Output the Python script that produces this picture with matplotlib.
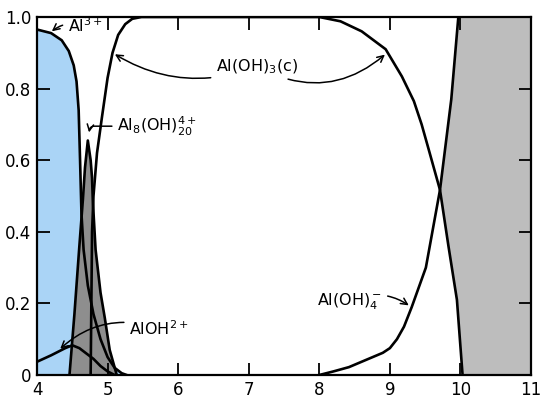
import numpy as np
import matplotlib
matplotlib.use("Agg")
import matplotlib.pyplot as plt

plt.rcParams["mathtext.default"] = "regular"
plt.rcParams["font.family"] = "DejaVu Sans"

# pH values and species fractions
al3_x = [4.0, 4.2, 4.35, 4.45, 4.52, 4.56, 4.59, 4.61, 4.63, 4.66, 4.72, 4.8, 4.9, 5.0, 5.1, 5.2, 5.27]
al3_y = [0.965, 0.955, 0.935, 0.905, 0.865, 0.82, 0.74, 0.6, 0.45, 0.35, 0.25, 0.17, 0.1, 0.05, 0.02, 0.005, 0.0]

poly_x = [4.46, 4.53, 4.6, 4.65, 4.68, 4.72, 4.76, 4.78, 4.79, 4.83, 4.9, 4.96, 5.03, 5.13]
poly_y = [0.0, 0.17, 0.36, 0.49, 0.58, 0.655, 0.6, 0.55, 0.49, 0.35, 0.23, 0.16, 0.07, 0.0]

aloh_x = [4.0, 4.2, 4.4, 4.5, 4.6, 4.7, 4.8, 4.9, 5.0, 5.1]
aloh_y = [0.037, 0.055, 0.075, 0.083, 0.075, 0.06, 0.045, 0.025, 0.01, 0.0]

aloh3_x = [4.76, 4.77, 4.78, 4.8, 4.85, 4.92, 5.0, 5.07, 5.15, 5.25, 5.35, 5.48, 6.0, 7.0,
           8.0, 8.3, 8.6, 8.94, 9.17, 9.34, 9.45, 9.55, 9.71, 9.83, 9.95, 10.03]
aloh3_y = [0.0, 0.2, 0.4, 0.5, 0.62, 0.72, 0.83, 0.9, 0.95, 0.98, 0.995, 1.0, 1.0, 1.0,
           1.0, 0.988, 0.96, 0.91, 0.834, 0.765, 0.7, 0.63, 0.517, 0.36, 0.21, 0.0]

aloh4_x = [8.0, 8.2, 8.42, 8.66, 8.9, 9.0, 9.1, 9.2, 9.31, 9.51, 9.71, 9.87, 9.97]
aloh4_y = [0.0, 0.01, 0.022, 0.042, 0.062, 0.075, 0.1, 0.135, 0.19, 0.30, 0.517, 0.77, 1.0]

x_ticks = [4, 5, 6, 7, 8, 9, 10, 11]
y_ticks = [0, 0.2, 0.4, 0.6, 0.8, 1.0]
y_tick_labels = ["0", "0.2", "0.4", "0.6", "0.8", "1.0"]

BLUE = "#aad4f6"
POLY_GRAY = "#8e8e8e"
RIGHT_GRAY = "#bdbdbd"

fig = plt.figure(figsize=(5.5, 4), dpi=100)
ax = fig.add_axes([0.0673, 0.0625, 0.8982, 0.895])

# blue area under Al3+
ax.fill_between(al3_x, al3_y, 0, color=BLUE, lw=0)
# polymer peak
ax.fill_between(poly_x, poly_y, 0, color=POLY_GRAY, lw=0)

# grey area on the right, between Al(OH)3(c) and Al(OH)4-
grid = np.linspace(9.6, 11, 600)
upper = np.interp(grid, aloh4_x, aloh4_y, right=1.0)
lower = np.interp(grid, aloh3_x, aloh3_y, right=0.0)
ax.fill_between(grid, lower, upper, where=upper >= lower, interpolate=True,
                color=RIGHT_GRAY, lw=0)

lw = 1.9
ax.plot(al3_x, al3_y, color="black", lw=lw)
ax.plot(poly_x, poly_y, color="black", lw=lw)
ax.plot(aloh_x, aloh_y, color="black", lw=lw)
ax.plot(aloh3_x, aloh3_y, color="black", lw=lw)
ax.plot(aloh4_x, aloh4_y, color="black", lw=lw)

ax.set_xlim(4, 11)
ax.set_ylim(0, 1)
ax.set_xticks(x_ticks)
ax.set_yticks(y_ticks)
ax.set_yticklabels(y_tick_labels)
ax.tick_params(direction="in", length=9, width=1.3, top=True, right=True,
               labelsize=12, pad=4)
for s in ax.spines.values():
    s.set_linewidth(1.6)

head = dict(arrowstyle="->", color="black", lw=1.1)
fs = 11.5

ax.annotate("Al$^{3+}$", xy=(4.18, 0.955), xytext=(4.44, 0.975), fontsize=fs,
            va="center", arrowprops=dict(head, connectionstyle="arc3,rad=0.3"))
ax.annotate("Al$_8$(OH)$_{20}^{4+}$", xy=(4.73, 0.67), xytext=(5.14, 0.695),
            fontsize=fs, va="center",
            arrowprops=dict(head, connectionstyle="angle,angleA=0,angleB=80,rad=4"))
ax.annotate("Al(OH)$_3$(c)", xy=(5.07, 0.9), xytext=(6.54, 0.862), fontsize=fs,
            va="center", arrowprops=dict(head, connectionstyle="arc3,rad=-0.25"))
ax.annotate("Al(OH)$_3$(c)", xy=(8.96, 0.9), xytext=(6.54, 0.862), fontsize=fs,
            va="center", alpha=0,
            arrowprops=dict(head, alpha=1, connectionstyle="arc3,rad=0.35"))
ax.annotate("AlOH$^{2+}$", xy=(4.3, 0.068), xytext=(5.31, 0.13), fontsize=fs,
            va="center", arrowprops=dict(head, connectionstyle="arc3,rad=0.3"))
ax.annotate("Al(OH)$_4^-$", xy=(9.3, 0.19), xytext=(7.97, 0.205), fontsize=fs,
            va="center", arrowprops=dict(head, connectionstyle="arc3,rad=-0.3"))

fig.savefig("out.png", dpi=100)
